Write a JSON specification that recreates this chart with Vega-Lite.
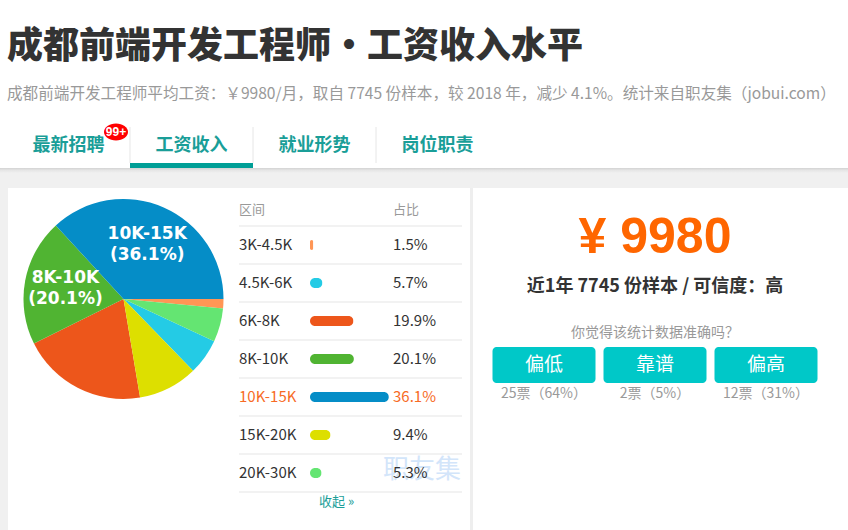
{
  "$schema": "https://vega.github.io/schema/vega-lite/v6.json",
  "padding": {"top": 29, "left": 0, "right": 0, "bottom": 0},
  "background": "#ffffff",
  "title": {
    "text": "成都前端开发工程师•工资收入水平",
    "subtitle": "成都前端开发工程师平均工资：￥9980/月，取自 7745 份样本，较 2018 年，减少 4.1%。统计来自职友集（jobui.com）",
    "anchor": "start",
    "frame": "group",
    "dx": 7,
    "font": "Noto Sans CJK SC",
    "fontSize": 36,
    "fontWeight": 900,
    "color": "#333333",
    "subtitleFont": "Noto Sans CJK SC",
    "subtitleFontSize": 15.6,
    "subtitleColor": "#999999",
    "subtitlePadding": 21,
    "offset": 20
  },
  "config": {
    "view": {"stroke": null},
    "concat": {"spacing": 0},
    "text": {"font": "Noto Sans CJK SC"}
  },
  "datasets": {
    "tabs": [
      {"tab": "最新招聘", "badge": "99+", "active": false},
      {"tab": "工资收入", "badge": null, "active": true},
      {"tab": "就业形势", "badge": null, "active": false},
      {"tab": "岗位职责", "badge": null, "active": false}
    ],
    "salary": [
      {"name": "3K-4.5K", "share": 0.015},
      {"name": "4.5K-6K", "share": 0.057},
      {"name": "6K-8K", "share": 0.199},
      {"name": "8K-10K", "share": 0.201},
      {"name": "10K-15K", "share": 0.361},
      {"name": "15K-20K", "share": 0.094},
      {"name": "20K-30K", "share": 0.053}
    ],
    "panel": [
      {"avg": 9980, "samples": 7745, "credibility": "高", "question": "你觉得该统计数据准确吗？"}
    ],
    "feedback": [
      {"opinion": "偏低", "votes": 25, "share": 0.64},
      {"opinion": "靠谱", "votes": 2, "share": 0.05},
      {"opinion": "偏高", "votes": 12, "share": 0.31}
    ]
  },
  "spacing": 0,
  "bounds": "flush",
  "vconcat": [
    {
      "width": 506,
      "height": 36,
      "data": {"name": "tabs"},
      "layer": [
        {
          "transform": [{"filter": "datum.tab !== '最新招聘'"}],
          "mark": {"type": "rule", "color": "#e6e6e6", "strokeWidth": 1},
          "encoding": {
            "x": {"field": "tab", "type": "nominal", "bandPosition": 0, "axis": null,
              "scale": {"type": "band", "domain": ["最新招聘", "工资收入", "就业形势", "岗位职责"], "paddingInner": 0, "paddingOuter": 0.0569}}
          }
        },
        {
          "mark": {"type": "text", "fontSize": 18, "fontWeight": "bold", "color": "#1a9e98", "dy": 1},
          "encoding": {
            "x": {"field": "tab", "type": "nominal", "axis": null,
              "scale": {"type": "band", "domain": ["最新招聘", "工资收入", "就业形势", "岗位职责"], "paddingInner": 0, "paddingOuter": 0.0569}},
            "text": {"field": "tab"}
          }
        },
        {
          "transform": [{"filter": "datum.badge"}],
          "mark": {"type": "point", "shape": "M -1 0 A 1 0.7 0 1 0 1 0 A 1 0.7 0 1 0 -1 0 Z", "filled": true, "opacity": 1, "color": "#ff0000", "size": 576, "xOffset": 47.5, "yOffset": -13},
          "encoding": {
            "x": {"field": "tab", "type": "nominal", "axis": null,
              "scale": {"type": "band", "domain": ["最新招聘", "工资收入", "就业形势", "岗位职责"], "paddingInner": 0, "paddingOuter": 0.0569}}
          }
        },
        {
          "transform": [{"filter": "datum.badge"}],
          "mark": {"type": "text", "font": "Liberation Sans", "fontSize": 12, "fontWeight": "bold", "color": "#ffffff", "dx": 47.5, "dy": -13},
          "encoding": {
            "x": {"field": "tab", "type": "nominal", "axis": null,
              "scale": {"type": "band", "domain": ["最新招聘", "工资收入", "就业形势", "岗位职责"], "paddingInner": 0, "paddingOuter": 0.0569}},
            "text": {"field": "badge"}
          }
        }
      ]
    },
    {
      "width": 506,
      "height": 5,
      "data": {"name": "tabs"},
      "transform": [{"filter": "datum.active"}],
      "mark": {"type": "rect", "color": "#009e96"},
      "encoding": {
        "x": {"field": "tab", "type": "nominal", "axis": null,
          "scale": {"type": "band", "domain": ["最新招聘", "工资收入", "就业形势", "岗位职责"], "paddingInner": 0, "paddingOuter": 0.0569}}
      }
    },
    {
      "width": 848,
      "height": 20,
      "data": {"values": [{}]},
      "mark": {"type": "rect", "color": {"gradient": "linear", "x1": 0, "y1": 0, "x2": 0, "y2": 1,
        "stops": [{"offset": 0, "color": "#d3d3d3"}, {"offset": 0.12, "color": "#e6e6e6"}, {"offset": 0.25, "color": "#f0f0f0"}, {"offset": 1, "color": "#f0f0f0"}]}},
      "encoding": {}
    },
    {
      "spacing": 0,
      "bounds": "flush",
      "hconcat": [
        {
          "width": 8,
          "height": 342,
          "data": {"values": [{}]},
          "mark": {"type": "rect", "color": "#f0f0f0"},
          "encoding": {}
        },
        {
          "width": 231,
          "height": 222,
          "data": {"name": "salary"},
          "encoding": {
            "theta": {"field": "share", "type": "quantitative", "stack": true, "scale": {"range": [1.5708, 7.854]}},
            "order": {"field": "share", "sort": "ascending"}
          },
          "layer": [
            {
              "mark": {"type": "arc", "outerRadius": 100},
              "encoding": {
                "color": {"field": "name", "type": "nominal", "legend": null,
                  "scale": {"domain": ["10K-15K", "8K-10K", "6K-8K", "15K-20K", "4.5K-6K", "20K-30K", "3K-4.5K"],
                    "range": ["#058DC7", "#50B432", "#ED561B", "#DDDF00", "#24CBE5", "#64E572", "#FF9655"]}}
              }
            },
            {
              "mark": {"type": "text", "radius": 59, "dy": -10.5, "color": "#ffffff", "font": "DejaVu Sans", "fontSize": 17, "fontWeight": "bold"},
              "encoding": {
                "text": {"field": "name"},
                "opacity": {"condition": {"test": "datum.share > 0.2", "value": 1}, "value": 0}
              }
            },
            {
              "mark": {"type": "text", "radius": 59, "dy": 10.5, "color": "#ffffff", "font": "DejaVu Sans", "fontSize": 17, "fontWeight": "bold",
                "text": {"expr": "'(' + format(datum.share, '.1%') + ')'"}},
              "encoding": {
                "opacity": {"condition": {"test": "datum.share > 0.2", "value": 1}, "value": 0}
              }
            }
          ]
        },
        {
          "width": 71,
          "height": 342,
          "data": {"name": "salary"},
          "layer": [
            {
              "mark": {"type": "rule", "color": "#e5e5e5"},
              "encoding": {
                "y": {"field": "name", "type": "nominal", "bandPosition": 1, "axis": null,
                  "scale": {"type": "band", "domain": ["head", "3K-4.5K", "4.5K-6K", "6K-8K", "8K-10K", "10K-15K", "15K-20K", "20K-30K", "foot"], "paddingInner": 0, "paddingOuter": 0}}
              }
            },
            {
              "data": {"values": [{"col": "区间"}]},
              "layer": [
                {
                  "mark": {"type": "rule", "color": "#e5e5e5"},
                  "encoding": {
                    "y": {"datum": "head", "type": "nominal", "bandPosition": 1, "axis": null,
                      "scale": {"type": "band", "domain": ["head", "3K-4.5K", "4.5K-6K", "6K-8K", "8K-10K", "10K-15K", "15K-20K", "20K-30K", "foot"], "paddingInner": 0, "paddingOuter": 0}}
                  }
                },
                {
                  "mark": {"type": "text", "align": "left", "fontSize": 13, "color": "#999999", "dy": 3},
                  "encoding": {
                    "x": {"datum": 0, "type": "quantitative", "axis": null, "scale": {"domain": [0, 1]}},
                    "y": {"datum": "head", "type": "nominal", "axis": null,
                      "scale": {"type": "band", "domain": ["head", "3K-4.5K", "4.5K-6K", "6K-8K", "8K-10K", "10K-15K", "15K-20K", "20K-30K", "foot"], "paddingInner": 0, "paddingOuter": 0}},
                    "text": {"field": "col"}
                  }
                }
              ]
            },
            {
              "mark": {"type": "text", "align": "left", "fontSize": 15},
              "encoding": {
                "x": {"datum": 0, "type": "quantitative", "axis": null, "scale": {"domain": [0, 1]}},
                "y": {"field": "name", "type": "nominal", "axis": null,
                  "scale": {"type": "band", "domain": ["head", "3K-4.5K", "4.5K-6K", "6K-8K", "8K-10K", "10K-15K", "15K-20K", "20K-30K", "foot"], "paddingInner": 0, "paddingOuter": 0}},
                "text": {"field": "name"},
                "color": {"condition": {"test": "datum.name === '10K-15K'", "value": "#f76b25"}, "value": "#333333"}
              }
            }
          ]
        },
        {
          "width": 83,
          "height": 342,
          "data": {"name": "salary"},
          "layer": [
            {
              "mark": {"type": "rule", "color": "#e5e5e5"},
              "encoding": {
                "y": {"field": "name", "type": "nominal", "bandPosition": 1, "axis": null,
                  "scale": {"type": "band", "domain": ["head", "3K-4.5K", "4.5K-6K", "6K-8K", "8K-10K", "10K-15K", "15K-20K", "20K-30K", "foot"], "paddingInner": 0, "paddingOuter": 0}}
              }
            },
            {
              "data": {"values": [{"label": "收起 »"}]},
              "layer": [
                {
                  "mark": {"type": "rule", "color": "#e5e5e5"},
                  "encoding": {
                    "y": {"datum": "head", "type": "nominal", "bandPosition": 1, "axis": null,
                      "scale": {"type": "band", "domain": ["head", "3K-4.5K", "4.5K-6K", "6K-8K", "8K-10K", "10K-15K", "15K-20K", "20K-30K", "foot"], "paddingInner": 0, "paddingOuter": 0}}
                  }
                },
                {
                  "mark": {"type": "text", "align": "left", "fontSize": 13, "color": "#1a9e98", "dx": 9, "dy": -9},
                  "encoding": {
                    "x": {"datum": 0, "type": "quantitative", "axis": null, "scale": {"domain": [0, 0.38]}},
                    "y": {"datum": "foot", "type": "nominal", "axis": null,
                      "scale": {"type": "band", "domain": ["head", "3K-4.5K", "4.5K-6K", "6K-8K", "8K-10K", "10K-15K", "15K-20K", "20K-30K", "foot"], "paddingInner": 0, "paddingOuter": 0}},
                    "text": {"field": "label"}
                  }
                }
              ]
            },
            {
              "mark": {"type": "bar", "height": 10, "cornerRadius": 5},
              "encoding": {
                "x": {"field": "share", "type": "quantitative", "axis": null, "scale": {"domain": [0, 0.38]}},
                "y": {"field": "name", "type": "nominal", "axis": null,
                  "scale": {"type": "band", "domain": ["head", "3K-4.5K", "4.5K-6K", "6K-8K", "8K-10K", "10K-15K", "15K-20K", "20K-30K", "foot"], "paddingInner": 0, "paddingOuter": 0}},
                "color": {"field": "name", "type": "nominal", "legend": null,
                  "scale": {"domain": ["10K-15K", "8K-10K", "6K-8K", "15K-20K", "4.5K-6K", "20K-30K", "3K-4.5K"],
                    "range": ["#058DC7", "#50B432", "#ED561B", "#DDDF00", "#24CBE5", "#64E572", "#FF9655"]}}
              }
            }
          ]
        },
        {
          "width": 69,
          "height": 342,
          "data": {"name": "salary"},
          "layer": [
            {
              "mark": {"type": "rule", "color": "#e5e5e5"},
              "encoding": {
                "y": {"field": "name", "type": "nominal", "bandPosition": 1, "axis": null,
                  "scale": {"type": "band", "domain": ["head", "3K-4.5K", "4.5K-6K", "6K-8K", "8K-10K", "10K-15K", "15K-20K", "20K-30K", "foot"], "paddingInner": 0, "paddingOuter": 0}}
              }
            },
            {
              "data": {"values": [{"col": "占比", "mark": "职友集"}]},
              "layer": [
                {
                  "mark": {"type": "rule", "color": "#e5e5e5"},
                  "encoding": {
                    "y": {"datum": "head", "type": "nominal", "bandPosition": 1, "axis": null,
                      "scale": {"type": "band", "domain": ["head", "3K-4.5K", "4.5K-6K", "6K-8K", "8K-10K", "10K-15K", "15K-20K", "20K-30K", "foot"], "paddingInner": 0, "paddingOuter": 0}}
                  }
                },
                {
                  "mark": {"type": "text", "align": "left", "fontSize": 13, "color": "#999999", "dy": 3},
                  "encoding": {
                    "x": {"datum": 0, "type": "quantitative", "axis": null, "scale": {"domain": [0, 1]}},
                    "y": {"datum": "head", "type": "nominal", "axis": null,
                      "scale": {"type": "band", "domain": ["head", "3K-4.5K", "4.5K-6K", "6K-8K", "8K-10K", "10K-15K", "15K-20K", "20K-30K", "foot"], "paddingInner": 0, "paddingOuter": 0}},
                    "text": {"field": "col"}
                  }
                },
                {
                  "mark": {"type": "text", "align": "left", "fontSize": 26, "color": "#d3e5fa", "dx": -10, "dy": -3},
                  "encoding": {
                    "x": {"datum": 0, "type": "quantitative", "axis": null, "scale": {"domain": [0, 1]}},
                    "y": {"datum": "20K-30K", "type": "nominal", "axis": null,
                      "scale": {"type": "band", "domain": ["head", "3K-4.5K", "4.5K-6K", "6K-8K", "8K-10K", "10K-15K", "15K-20K", "20K-30K", "foot"], "paddingInner": 0, "paddingOuter": 0}},
                    "text": {"field": "mark"}
                  }
                }
              ]
            },
            {
              "mark": {"type": "text", "align": "left", "fontSize": 15},
              "encoding": {
                "x": {"datum": 0, "type": "quantitative", "axis": null, "scale": {"domain": [0, 1]}},
                "y": {"field": "name", "type": "nominal", "axis": null,
                  "scale": {"type": "band", "domain": ["head", "3K-4.5K", "4.5K-6K", "6K-8K", "8K-10K", "10K-15K", "15K-20K", "20K-30K", "foot"], "paddingInner": 0, "paddingOuter": 0}},
                "text": {"field": "share", "format": ".1%"},
                "color": {"condition": {"test": "datum.name === '10K-15K'", "value": "#f76b25"}, "value": "#333333"}
              }
            }
          ]
        },
        {
          "width": 19,
          "height": 342,
          "data": {"values": [{}]},
          "mark": {"type": "rule", "color": "#eeeeee", "strokeWidth": 3},
          "encoding": {
            "x": {"datum": 0.5, "type": "quantitative", "axis": null, "scale": {"domain": [0, 1]}}
          }
        },
        {
          "spacing": 0,
          "bounds": "flush",
          "vconcat": [
            {
              "width": 348,
              "height": 94,
              "data": {"name": "panel"},
              "mark": {"type": "text", "font": "Liberation Sans", "fontSize": 50, "fontWeight": "bold", "color": "#ff6600", "dy": 2.5,
                "text": {"expr": "'¥ ' + datum.avg"}},
              "encoding": {}
            },
            {
              "width": 348,
              "height": 37,
              "data": {"name": "panel"},
              "mark": {"type": "text", "fontSize": 18, "fontWeight": "bold", "color": "#333333", "dy": -13.5,
                "text": {"expr": "'近1年 ' + datum.samples + ' 份样本 / 可信度：' + datum.credibility"}},
              "encoding": {}
            },
            {
              "width": 348,
              "height": 28,
              "data": {"name": "panel"},
              "mark": {"type": "text", "fontSize": 14, "color": "#999999"},
              "encoding": {"text": {"field": "question"}}
            },
            {
              "width": 348,
              "height": 36,
              "data": {"name": "feedback"},
              "encoding": {
                "x": {"field": "opinion", "type": "nominal", "axis": null,
                  "scale": {"type": "band", "domain": ["偏低", "靠谱", "偏高"], "paddingInner": 0.072, "paddingOuter": 0.1036}}
              },
              "layer": [
                {"mark": {"type": "rect", "color": "#00c8c8", "cornerRadius": 4}},
                {"mark": {"type": "text", "fontSize": 19, "color": "#ffffff"}, "encoding": {"text": {"field": "opinion"}}}
              ]
            },
            {
              "width": 348,
              "height": 22,
              "data": {"name": "feedback"},
              "mark": {"type": "text", "fontSize": 14, "color": "#999999",
                "text": {"expr": "datum.votes + '票（' + format(datum.share, '.0%') + '）'"}},
              "encoding": {
                "x": {"field": "opinion", "type": "nominal", "axis": null,
                  "scale": {"type": "band", "domain": ["偏低", "靠谱", "偏高"], "paddingInner": 0.072, "paddingOuter": 0.1036}}
              }
            }
          ]
        }
      ]
    }
  ]
}
